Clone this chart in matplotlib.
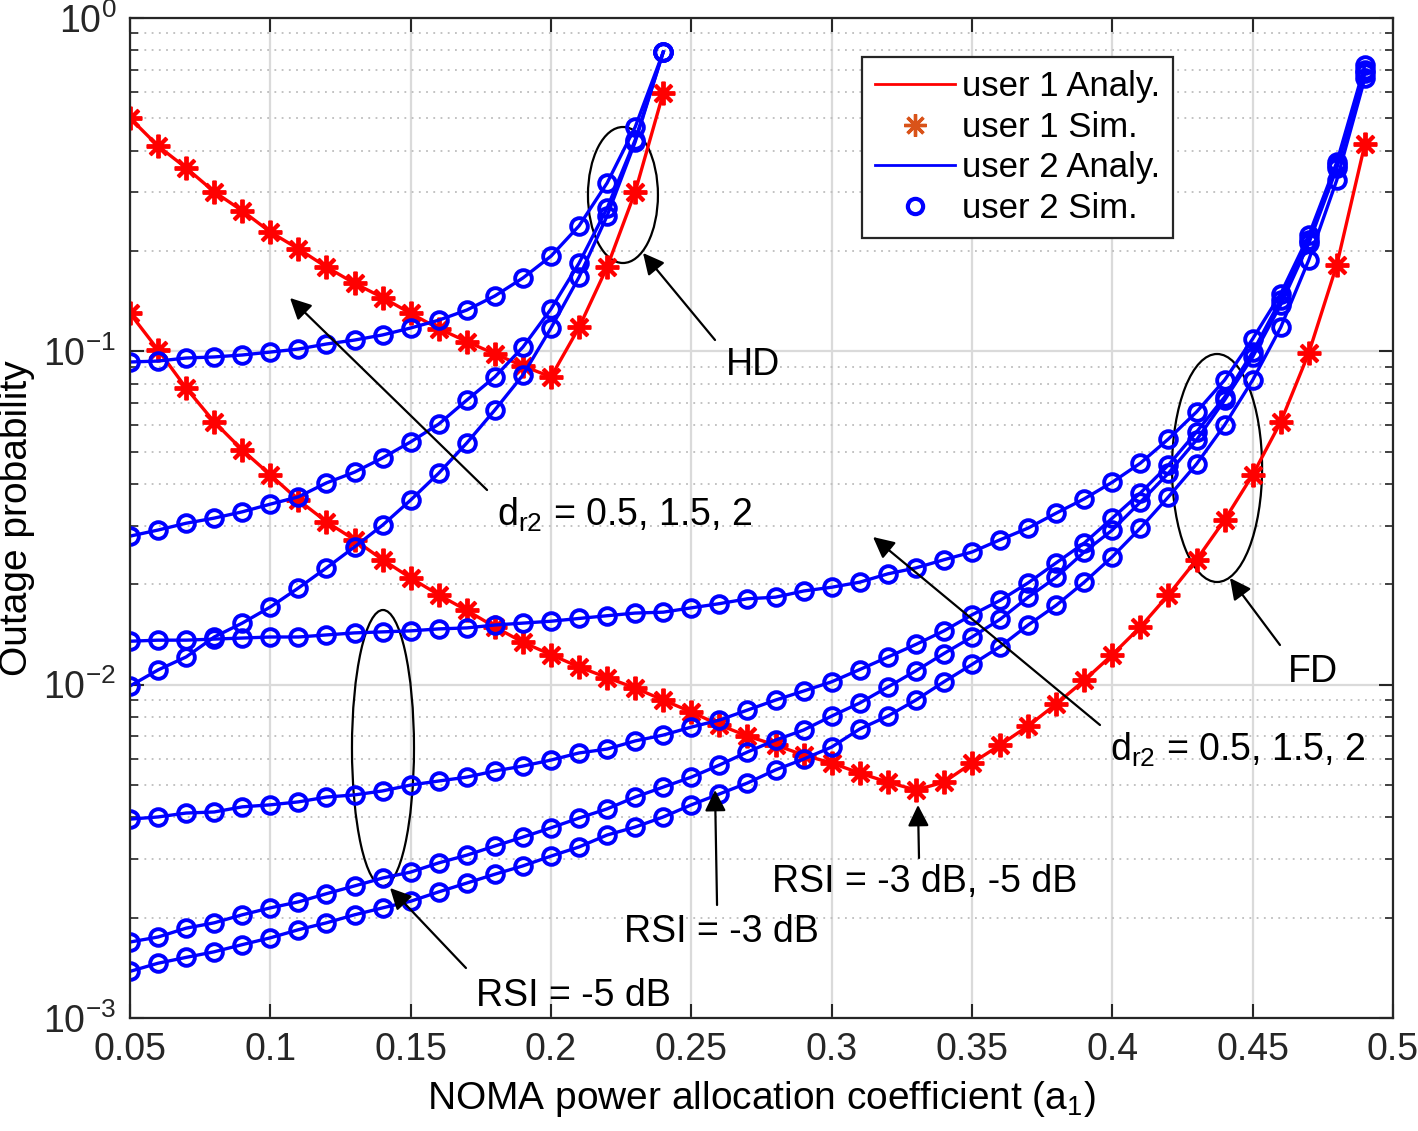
import numpy as np
import matplotlib
matplotlib.use("Agg")
import matplotlib.pyplot as plt
from matplotlib.lines import Line2D
from matplotlib.patches import Ellipse
from matplotlib.ticker import LogLocator, NullFormatter

plt.rcParams['font.family'] = ['Liberation Sans', 'DejaVu Sans']
plt.rcParams['mathtext.fontset'] = 'custom'
plt.rcParams['mathtext.rm'] = 'Liberation Sans'
plt.rcParams['mathtext.it'] = 'Liberation Sans'

# power allocation coefficient a1
a1_hd = np.round(np.arange(0.05, 0.245, 0.01), 2)
a1_fd = np.round(np.arange(0.05, 0.495, 0.01), 2)

# HD, user 1 (one curve)
hd_u1 = [0.501, 0.413, 0.355, 0.301, 0.264, 0.228, 0.203, 0.179, 0.160, 0.145,
         0.130, 0.117, 0.107, 0.0982, 0.0904, 0.0838, 0.118, 0.179, 0.301, 0.596]
# HD, user 2, d_r2 = 0.5, 1.5, 2
hd_u2_a = [0.0929, 0.0935, 0.0955, 0.0962, 0.0975, 0.0995, 0.1016, 0.1052, 0.1081, 0.112,
           0.1175, 0.124, 0.133, 0.1466, 0.166, 0.193, 0.238, 0.320, 0.471, 0.791]
hd_u2_b = [0.0279, 0.0291, 0.0305, 0.0316, 0.0330, 0.0348, 0.0366, 0.0403, 0.0434, 0.0479,
           0.0535, 0.0605, 0.0714, 0.0838, 0.103, 0.134, 0.184, 0.269, 0.431, 0.791]
hd_u2_c = [0.00991, 0.01107, 0.01211, 0.0139, 0.0153, 0.0171, 0.0195, 0.0224, 0.0259, 0.0301,
           0.0358, 0.0431, 0.0531, 0.0667, 0.0849, 0.1175, 0.167, 0.255, 0.425, 0.791]

# FD, user 1 (RSI = -3 dB and -5 dB overlap)
fd_u1 = [0.130, 0.101, 0.0776, 0.0614, 0.0506, 0.0426, 0.0358, 0.0308, 0.0272, 0.0237,
         0.0209, 0.0186, 0.0167, 0.0149, 0.0134, 0.0123, 0.0113, 0.0105, 0.00977, 0.00899,
         0.00828, 0.00757, 0.00701, 0.00659, 0.00615, 0.00582, 0.00543, 0.00510, 0.00483, 0.00510,
         0.00582, 0.00659, 0.00752, 0.00875, 0.0103, 0.0123, 0.0149, 0.0186, 0.0237, 0.0312,
         0.0426, 0.0614, 0.0989, 0.182, 0.419]
# FD, user 2
fd_u2_d = [0.0135, 0.0136, 0.0136, 0.0137, 0.0138, 0.0139, 0.0139, 0.0141, 0.0143, 0.0144,
           0.0145, 0.0147, 0.0148, 0.0151, 0.0153, 0.0155, 0.0158, 0.0161, 0.0164, 0.0165,
           0.0170, 0.0175, 0.0181, 0.0183, 0.0191, 0.0196, 0.0203, 0.0215, 0.0224, 0.0237,
           0.0250, 0.0272, 0.0295, 0.0327, 0.0361, 0.0405, 0.0462, 0.0546, 0.0658, 0.0820,
           0.109, 0.149, 0.223, 0.370, 0.723]
fd_u2_e = [0.00395, 0.00401, 0.00412, 0.00415, 0.00430, 0.00436, 0.00445, 0.00460, 0.00467, 0.00480,
           0.00500, 0.00514, 0.00528, 0.00551, 0.00570, 0.00594, 0.00624, 0.00641, 0.00678, 0.00706,
           0.00746, 0.00783, 0.00839, 0.00899, 0.00957, 0.0102, 0.0111, 0.0121, 0.0132, 0.0145,
           0.0162, 0.0179, 0.0202, 0.0232, 0.0266, 0.0316, 0.0376, 0.0456, 0.0573, 0.0729,
           0.0995, 0.143, 0.216, 0.362, 0.698]
fd_u2_f = [0.00169, 0.00175, 0.00186, 0.00193, 0.00204, 0.00214, 0.00223, 0.00236, 0.00249, 0.00263,
           0.00274, 0.00292, 0.00308, 0.00328, 0.00349, 0.00372, 0.00398, 0.00424, 0.00460, 0.00493,
           0.00528, 0.00574, 0.00628, 0.00682, 0.00731, 0.00805, 0.00881, 0.00984, 0.0110, 0.0124,
           0.0139, 0.0157, 0.0183, 0.0210, 0.0250, 0.0291, 0.0353, 0.0431, 0.0542, 0.0714,
           0.0962, 0.138, 0.211, 0.355, 0.684]
fd_u2_g = [0.00138, 0.00146, 0.00152, 0.00158, 0.00166, 0.00174, 0.00184, 0.00193, 0.00204, 0.00214,
           0.00224, 0.00239, 0.00254, 0.00270, 0.00286, 0.00306, 0.00326, 0.00354, 0.00374, 0.00401,
           0.00436, 0.00470, 0.00507, 0.00555, 0.00598, 0.00650, 0.00736, 0.00805, 0.00899, 0.0102,
           0.0115, 0.0130, 0.0151, 0.0173, 0.0203, 0.0242, 0.0295, 0.0366, 0.0459, 0.0601,
           0.0820, 0.118, 0.188, 0.327, 0.661]

xticks = [0.05, 0.1, 0.15, 0.2, 0.25, 0.3, 0.35, 0.4, 0.45, 0.5]
xtick_labels = ['0.05', '0.1', '0.15', '0.2', '0.25', '0.3', '0.35', '0.4', '0.45', '0.5']

RED = '#FF0000'
BLUE = '#0000FF'
ast = (8, 2, 0)

fig = plt.figure(figsize=(14.18, 11.31), dpi=100)
ax = fig.add_axes([130 / 1418, 113 / 1131, 1263 / 1418, 1000 / 1131])

red_kw = dict(color=RED, lw=2.4, marker=ast, ms=17, mew=2.8, mec=RED)
blue_kw = dict(color=BLUE, lw=2.4, marker='o', ms=12, mew=2.8, mfc='none', mec=BLUE)

ax.plot(a1_hd, hd_u1, **red_kw)
ax.plot(a1_fd, fd_u1, **red_kw)
for ys in (hd_u2_a, hd_u2_b, hd_u2_c):
    ax.plot(a1_hd, ys, **blue_kw)
for ys in (fd_u2_d, fd_u2_e, fd_u2_f, fd_u2_g):
    ax.plot(a1_fd, ys, **blue_kw)

ax.set_yscale('log')
ax.set_xlim(0.05, 0.5)
ax.set_ylim(1e-3, 1)
ax.set_xticks(xticks)
ax.set_xticklabels(xtick_labels)
ax.yaxis.set_major_locator(LogLocator(base=10, numticks=10))
ax.yaxis.set_minor_locator(LogLocator(base=10, subs=np.arange(2, 10), numticks=20))
ax.yaxis.set_minor_formatter(NullFormatter())

ax.grid(True, which='major', color='#DADADA', lw=1.6, ls='-')
ax.grid(True, which='minor', axis='y', color='#BDBDBD', lw=1.3, ls=(0, (1, 3)))
ax.set_axisbelow(True)

ax.tick_params(which='both', direction='in', top=True, right=True, colors='#262626')
ax.tick_params(which='major', length=10, width=1.5, labelsize=27, pad=10)
ax.tick_params(which='minor', length=6, width=1.2)
for s in ax.spines.values():
    s.set_color('#262626')
    s.set_linewidth(1.6)

ax.set_xlabel(r'NOMA power allocation coefficient (a$_\mathregular{1}$)', fontsize=28, labelpad=8)
ax.set_ylabel('Outage probability', fontsize=28, labelpad=6)

# annotations (axes fraction)
arrow_kw = dict(arrowstyle='-|>', color='black', lw=1.6, mutation_scale=32, shrinkA=0, shrinkB=0)


def note(txt, tpos, tail, head, ha='left'):
    ax.text(tpos[0], tpos[1], txt, transform=ax.transAxes, fontsize=27, ha=ha, va='center')
    ax.annotate('', xy=head, xytext=tail, xycoords='axes fraction',
                textcoords='axes fraction', arrowprops=arrow_kw)


note('HD', (0.4933, 0.653), (0.4632, 0.678), (0.4062, 0.765), ha='center')
note(r'd$_\mathregular{r2}$ = 0.5, 1.5, 2', (0.2906, 0.503), (0.2827, 0.528), (0.1267, 0.720))
note('FD', (0.9367, 0.346), (0.9105, 0.373), (0.8709, 0.440), ha='center')
note(r'd$_\mathregular{r2}$ = 0.5, 1.5, 2', (0.7759, 0.268), (0.768, 0.293), (0.5883, 0.481))
note('RSI = -3 dB, -5 dB', (0.5083, 0.136), (0.6247, 0.160), (0.6239, 0.213))
note('RSI = -3 dB', (0.3911, 0.086), (0.4648, 0.113), (0.4632, 0.228))
note('RSI = -5 dB', (0.2740, 0.022), (0.2660, 0.050), (0.2059, 0.130))

for c, w, h in [((0.3903, 0.823), 0.0554, 0.136),
                ((0.8607, 0.550), 0.0713, 0.228),
                ((0.2003, 0.270), 0.0491, 0.276)]:
    ax.add_patch(Ellipse(c, w, h, transform=ax.transAxes, fill=False, ec='black', lw=1.6))

handles = [Line2D([], [], color=RED, lw=2.0),
           Line2D([], [], ls='none', marker=ast, ms=16, mew=2.4, color='#D95319'),
           Line2D([], [], color=BLUE, lw=2.0),
           Line2D([], [], ls='none', marker='o', ms=11, mew=3.0, mfc='none', mec=BLUE)]
labels = ['user 1 Analy.', 'user 1 Sim.', 'user 2 Analy.', 'user 2 Sim.']
leg = ax.legend(handles, labels, loc='upper left', bbox_to_anchor=(0.5796, 0.961),
                fontsize=25, frameon=True, fancybox=False, edgecolor='#262626',
                handlelength=2.3, handletextpad=0.2, labelspacing=0.22, borderpad=0.38,
                borderaxespad=0)
leg.get_frame().set_linewidth(1.6)
leg.get_frame().set_alpha(1)

fig.savefig('out.png', dpi=100)
